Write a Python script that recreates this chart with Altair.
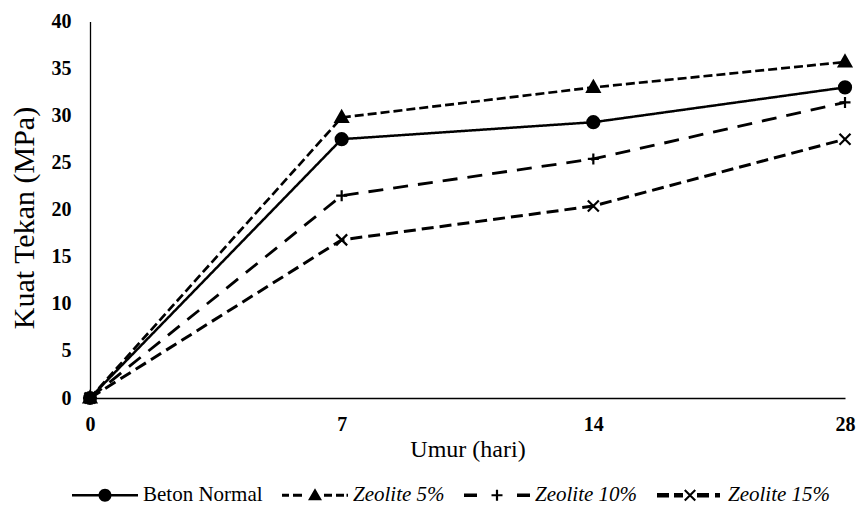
import altair as alt
import pandas as pd

# ---- data ----
umur = [0, 7, 14, 28]
series_names = ["Beton Normal", "Zeolite 5%", "Zeolite 10%", "Zeolite 15%"]
beton_normal = [0, 27.5, 29.3, 33.0]
zeolite_5 = [0, 29.8, 33.0, 35.7]
zeolite_10 = [0, 21.5, 25.4, 31.4]
zeolite_15 = [0, 16.8, 20.4, 27.5]
y_ticks = [0, 5, 10, 15, 20, 25, 30, 35, 40]

rows = []
for name, vals in zip(series_names, [beton_normal, zeolite_5, zeolite_10, zeolite_15]):
    for u, v in zip(umur, vals):
        rows.append({"umur": u, "seri": name, "kuat": v})
df = pd.DataFrame(rows)

FONT = "Liberation Serif, Times New Roman, serif"

marker_paths = [
    "M-0.6,0A0.6,0.6 0 1,0 0.6,0A0.6,0.6 0 1,0 -0.6,0Z",
    "M0,-0.65L0.62,0.45L-0.62,0.45Z",
    "M-0.55,0H0.55M0,-0.55V0.55",
    "M-0.55,-0.55L0.55,0.55M-0.55,0.55L0.55,-0.55",
]

def rect(x1, x2, t):
    return f"M{x1},{-t}H{x2}V{t}H{x1}Z"

circle = "M-0.65,0A0.65,0.65 0 1,1 0.65,0A0.65,0.65 0 1,1 -0.65,0Z"
triangle = "M0,-0.7L0.7,0.5L-0.7,0.5Z"
plus = "M-0.55,-0.11H-0.11V-0.55H0.11V-0.11H0.55V0.11H0.11V0.55H-0.11V0.11H-0.55Z"
cross = "M-0.6,-0.45L-0.45,-0.6L0.6,0.45L0.45,0.6ZM0.45,-0.6L0.6,-0.45L-0.45,0.6L-0.6,0.45Z"

legend_paths = [
    rect(-3.3, -0.6, 0.125) + rect(0.6, 3.3, 0.125) + circle,
    rect(-3.3, -2.6, 0.15) + rect(-2.2, -1.3, 0.15) + triangle
    + rect(0.9, 1.7, 0.15) + rect(2.1, 2.9, 0.15) + rect(3.15, 3.3, 0.15),
    rect(-3.3, -2.0, 0.175) + plus + rect(2.0, 3.3, 0.175),
    rect(-3.3, -2.1, 0.225) + rect(-1.6, -0.7, 0.225) + cross
    + rect(0.7, 1.9, 0.225) + rect(2.5, 3.0, 0.225),
]

x_enc = alt.X(
    "umur:O",
    sort=umur,
    scale=alt.Scale(padding=0),
    axis=alt.Axis(
        title="Umur (hari)", labelAngle=0, labelFont=FONT, labelFontWeight="bold",
        labelFontSize=20, labelColor="black", labelPadding=16, ticks=False, tickSize=0,
        domainColor="black", domainWidth=1.3, titleFont=FONT, titleFontSize=24,
        titleFontWeight="normal", titleColor="black", titlePadding=3, grid=False,
    ),
)
y_enc = alt.Y(
    "kuat:Q",
    scale=alt.Scale(domain=[0, 40], nice=False),
    axis=alt.Axis(
        title="Kuat Tekan (MPa)", values=y_ticks, grid=False, labelFont=FONT,
        labelFontWeight="bold", labelFontSize=20, labelColor="black", labelPadding=19,
        ticks=False, tickSize=0, domainColor="black", domainWidth=1.3, titleFont=FONT,
        titleFontSize=30, titleFontWeight="normal", titleColor="black", titlePadding=12,
        titleY=196,
    ),
)

base = alt.Chart(df)

lines = base.mark_line(color="black").encode(
    x=x_enc,
    y=y_enc,
    detail="seri:N",
    strokeDash=alt.StrokeDash(
        "seri:N",
        scale=alt.Scale(domain=series_names, range=[[1, 0], [9, 4], [15, 10], [12, 6]]),
        legend=None,
    ),
    strokeWidth=alt.StrokeWidth(
        "seri:N",
        scale=alt.Scale(domain=series_names, range=[2.5, 3, 3, 5]),
        legend=None,
    ),
)

points = base.mark_point(
    fill="black", stroke="black", strokeWidth=2.2, size=400, opacity=1, fillOpacity=1
).encode(
    x=x_enc,
    y=y_enc,
    shape=alt.Shape(
        "seri:N",
        scale=alt.Scale(domain=series_names, range=marker_paths),
        legend=None,
    ),
)

legend_layer = base.mark_point(
    fill="black", strokeWidth=0, size=400, opacity=1, fillOpacity=1
).encode(
    x=x_enc,
    y=y_enc,
    shape=alt.Shape(
        "seri:N",
        scale=alt.Scale(domain=series_names, range=legend_paths),
        legend=alt.Legend(
            title=None, orient="none", legendX=-18, legendY=463, direction="horizontal",
            columns=4, columnPadding=19, symbolSize=400, symbolOffset=22.5, labelOffset=27.5,
            labelFont=FONT, labelFontSize=21, labelColor="black", labelLimit=0,
            labelFontStyle=alt.ExprRef(expr="datum.label == 'Beton Normal' ? 'normal' : 'italic'"),
            symbolStrokeWidth=0, symbolFillColor="black",
            symbolOpacity=1, padding=0,
        ),
    ),
).transform_filter("false")

chart = (
    alt.layer(lines, points, legend_layer)
    .resolve_scale(shape="independent")
    .properties(
        width=755,
        height=376.5,
        autosize=alt.AutoSizeParams(type="none"),
        padding={"left": 90, "top": 21.5, "right": 14, "bottom": 108},
        background="white",
    )
    .configure_view(stroke=None)
)

chart.save("out.html", embed_options={"renderer": "svg", "actions": False})
